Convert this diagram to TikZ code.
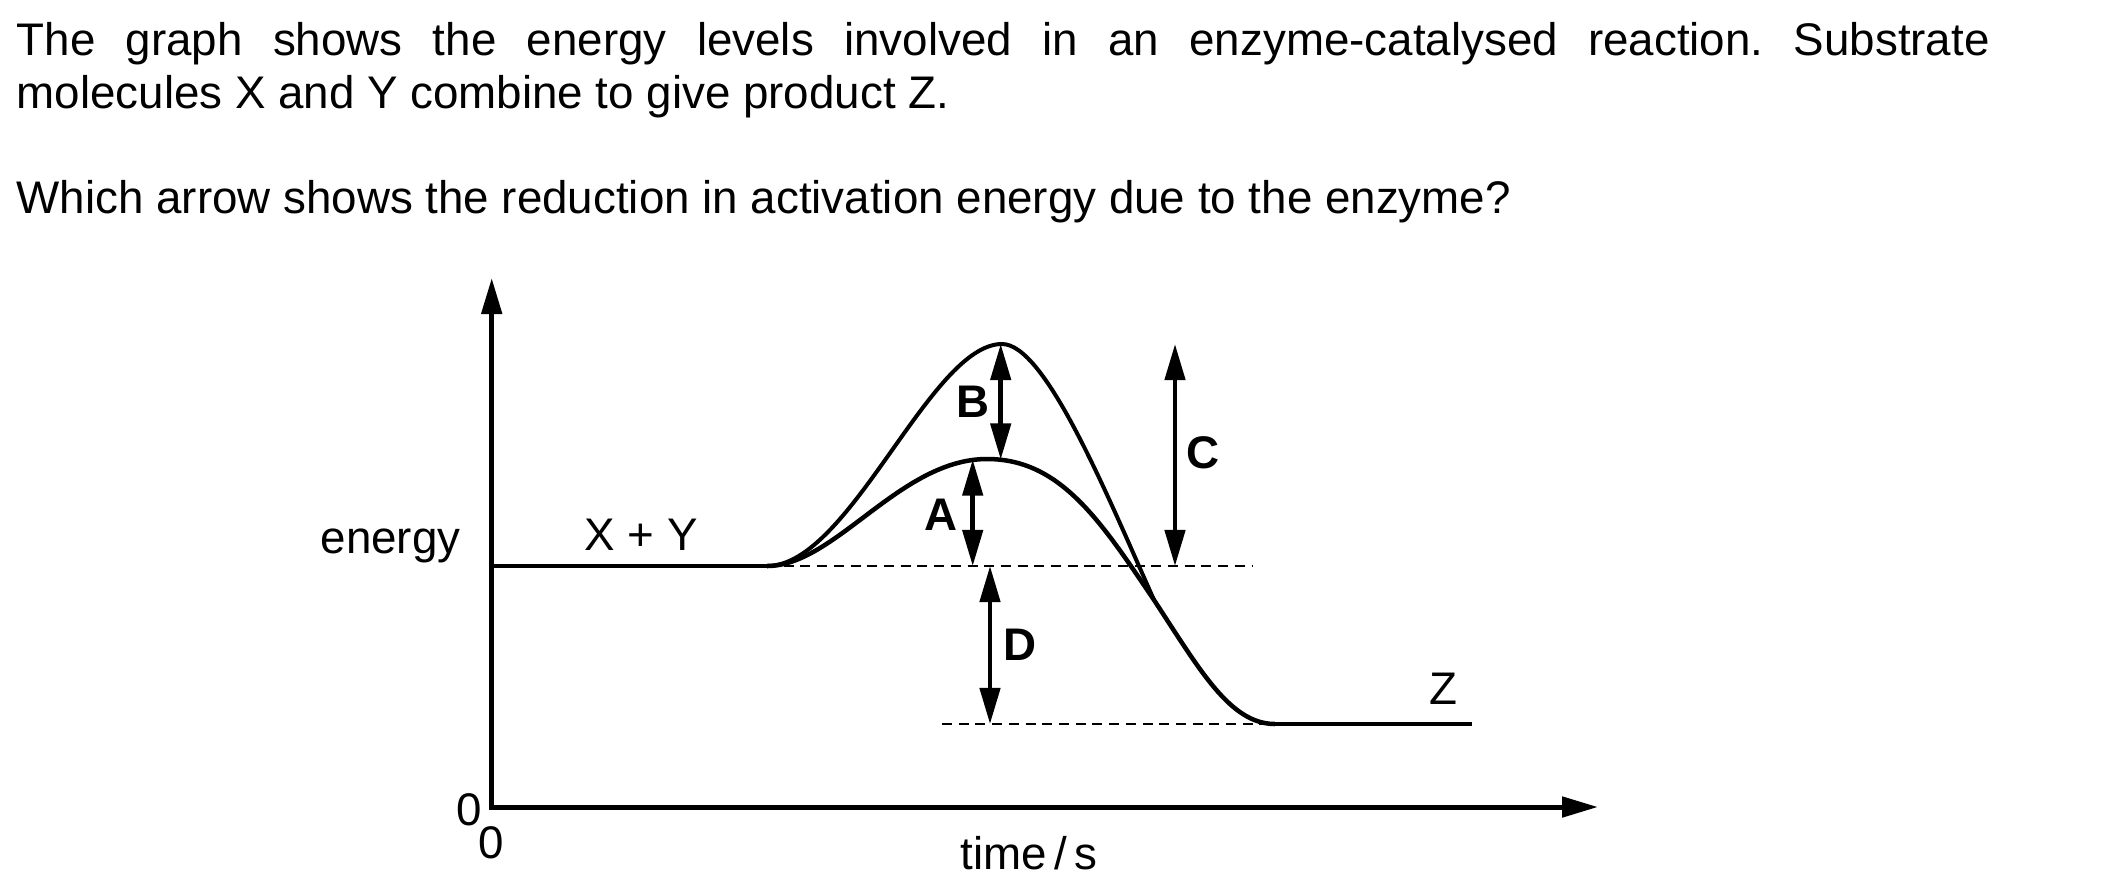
\documentclass[tikz,border=0pt]{standalone}
\usepackage{fontspec}
\setmainfont{Liberation Sans}
\usetikzlibrary{arrows.meta}
\frenchspacing

\tikzset{
  axis/.style={line width=0.5mm, line join=miter},
  curve/.style={line width=0.45mm},
  level/.style={line width=0.25mm, dash pattern=on 1mm off 0.67mm},
  gap/.style={line width=0.45mm, {Triangle[length=3.6mm, width=2mm]}-{Triangle[length=3.6mm, width=2mm]}},
  txt/.style={font=\fontsize{13}{15}\selectfont, inner sep=0pt},
  letter/.style={font=\fontsize{13}{15}\selectfont\bfseries, inner sep=0pt},
}

\begin{document}
\begin{tikzpicture}[x=0.01cm, y=-0.01cm]
  \useasboundingbox (0,0) rectangle (2103,887);
  % question text
  \node[txt, anchor=base west] (line1) at (16,55) {\makebox[19.72cm][s]{The graph shows the energy levels involved in an enzyme-catalysed reaction. Substrate}};
  \node[txt, anchor=base west] (line2) at (16,108) {molecules X and Y combine to give product Z.};
  \node[txt, anchor=base west] (question) at (16,213) {Which arrow shows the reduction in activation energy due to the enzyme?};
  % levels
  \def\yr{566};
  \def\yp{724};
  \coordinate (O) at (491.7, 807);
  \coordinate (Ytip) at (491.7, 278);
  \coordinate (Xtip) at (1598, 807);
  \coordinate (R0) at (491.7, \yr);
  \coordinate (R1) at (767, \yr);
  \coordinate (R2) at (1253, \yr);
  \coordinate (P0) at (942, \yp);
  \coordinate (P1) at (1275, \yp);
  \coordinate (P2) at (1472, \yp);
  \coordinate (Tc) at (987, 459);
  \coordinate (Tu) at (1002, 344);
  \coordinate (M) at (1154, 600);
  % axes
  \draw[axis, {Triangle[length=3.6mm, width=2mm]}-{Triangle[length=3.6mm, width=2mm]}] (Ytip) -- (O) -- (Xtip);
  \node[txt, anchor=base] (zeroE) at (469, 825) {0};
  \node[txt, anchor=base] (zeroT) at (491.5, 858) {0};
  \node[txt, anchor=base] (energy) at (390.5, 553) {energy};
  \node[txt, anchor=base] (timelbl) at (1029, 869) {time\,/\,s};
  % energy levels
  \draw[level] (R1) -- (R2);
  \draw[level] (P0) -- (P1);
  \draw[curve] (R0) -- (R1);
  \draw[curve] (P1) -- (P2);
  \node[txt, anchor=base] (reactants) at (641, 550) {X + Y};
  \node[txt, anchor=base] (product) at (1443, 704) {Z};
  % reaction paths
  \draw[curve] (R1) .. controls (835,\yr) and (900,459) .. (Tc) .. controls (1060,459) and (1100,520) .. (M) .. controls (1200,670) and (1230,\yp) .. (P1);
  \draw[line width=0.4mm] (R1) .. controls (850,\yr) and (930,344) .. (Tu) .. controls (1045,344) and (1105,490) .. (M);
  % arrows
  \draw[gap] (972.7, 459.5) -- (972.7, \yr);
  \node[letter] (labA) at (941, 514.5) {A};
  \draw[gap] (1000.7, 344) -- (1000.7, 459.5);
  \node[letter] (labB) at (972.5, 401.5) {B};
  \draw[gap] (1175, 344) -- (1175, \yr);
  \node[letter] (labC) at (1202.5, 453) {C};
  \draw[gap] (990, \yr) -- (990, \yp);
  \node[letter] (labD) at (1019.5, 644.5) {D};
\end{tikzpicture}
\end{document}
